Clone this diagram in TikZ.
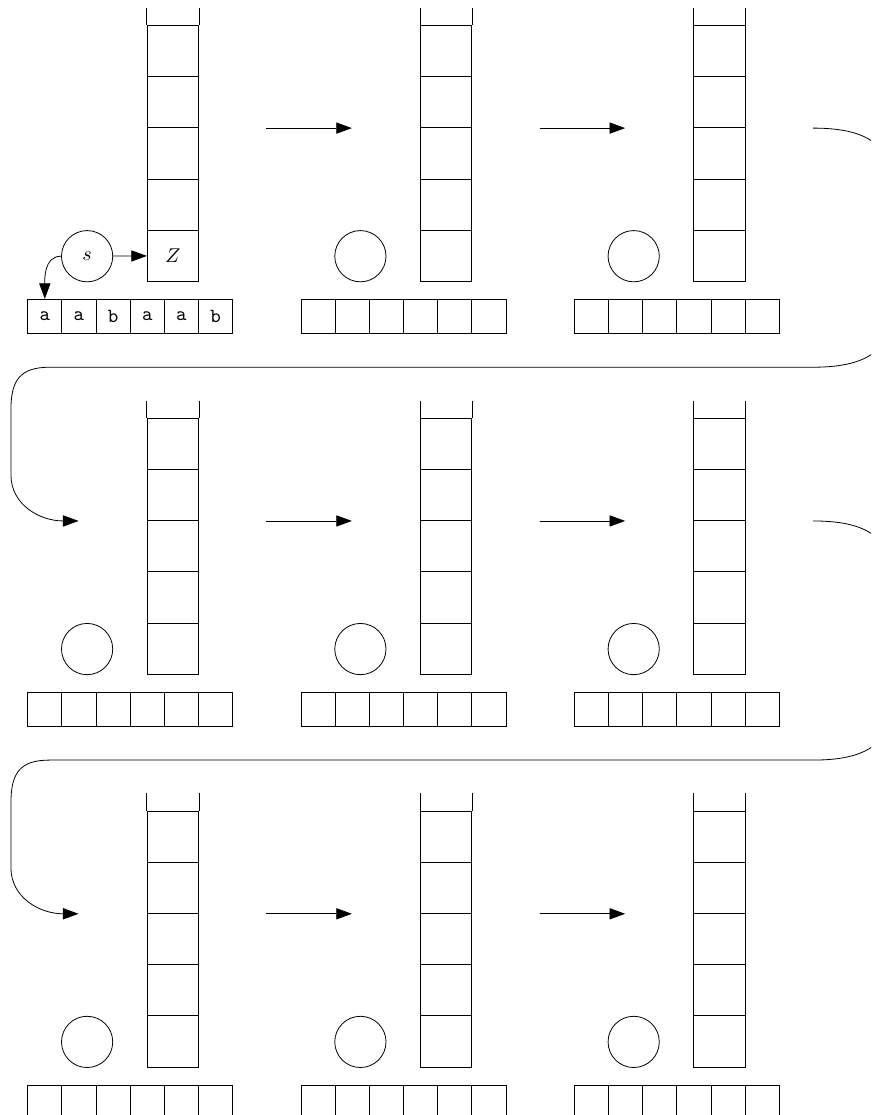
\documentclass[tikz,border=0pt]{standalone}
\usetikzlibrary{arrows.meta}
\tikzset{
  tapecell/.style={draw,minimum size=0.6cm,inner sep=0pt,anchor=north west},
  stackcell/.style={draw,minimum size=0.9cm,inner sep=0pt,anchor=south west},
  statecirc/.style={draw,circle,minimum size=0.9cm,inner sep=0pt},
  moveto/.style={-{Triangle[length=7.8pt,width=5.6pt]}},
}
% one configuration: tape top-left at (#1,#2), names start with #3
\newcommand{\pdaconfig}[3]{%
  \foreach \k in {1,...,6}
    \node[tapecell] (#3-t\k) at ({#1+\k-1},{#2}) {};
  \foreach \k in {1,...,5}
    \node[stackcell] (#3-k\k) at ({#1+3.5},{#2+0.5+1.5*(\k-1)}) {};
  \draw (#3-k5.north west) -- ++(0,0.5) (#3-k5.north east) -- ++(0,0.5);
  \node[statecirc] (#3-q) at ({#1+1.75},{#2+1.25}) {};
}

\begin{document}
\begin{tikzpicture}[x=0.6cm,y=0.6cm]
  \useasboundingbox (0,0) rectangle (25.5,-32.64);
  \clip (0,0) rectangle (25.5,-32.64);

  \foreach \r in {0,1,2}
    \foreach \c in {0,1,2} {
      \pdaconfig{0.8+8*\c}{-8.75-11.5*\r}{p\r-\c}
    }

  % initial contents
  \foreach \l [count=\k] in {a,a,b,a,a,b}
    \node[font=\ttfamily] at (p0-0-t\k) {\l};
  \node at (p0-0-q) {$s$};
  \node at (p0-0-k1) {$Z$};
  \draw[moveto] (p0-0-q) -- (p0-0-k1);
  \draw[moveto] (p0-0-q.west) to[out=180,in=90] (p0-0-t1.north);

  % steps within a row
  \foreach \r in {0,1,2}
    \foreach \c in {0,1} {
      \coordinate (go\r-\c) at ({7.8+8*\c},{-3.75-11.5*\r});
      \coordinate (to\r-\c) at ({10.3+8*\c},{-3.75-11.5*\r});
      \draw[moveto] (go\r-\c) -- (to\r-\c);
    }

  % wrap to the next row
  \foreach \r in {0,1} {
    \begin{scope}[shift={(0,{-11.5*\r})}]
      \coordinate (wrap\r) at (23.8,-3.75);
      \coordinate (land\r) at (2.3,-15.25);
      \draw[moveto] (wrap\r) .. controls (25.61,-3.75) and (26.2,-4.39) .. (26.2,-5.85)
        -- (26.2,-8.64) .. controls (26.2,-10.1) and (25.61,-10.75) .. (23.8,-10.75)
        -- (1.46,-10.75) .. controls (0.59,-10.75) and (0.32,-11.12) .. (0.32,-12.0)
        -- (0.32,-13.9) .. controls (0.32,-14.78) and (1.17,-15.25) .. (land\r);
    \end{scope}
  }
\end{tikzpicture}
\end{document}
